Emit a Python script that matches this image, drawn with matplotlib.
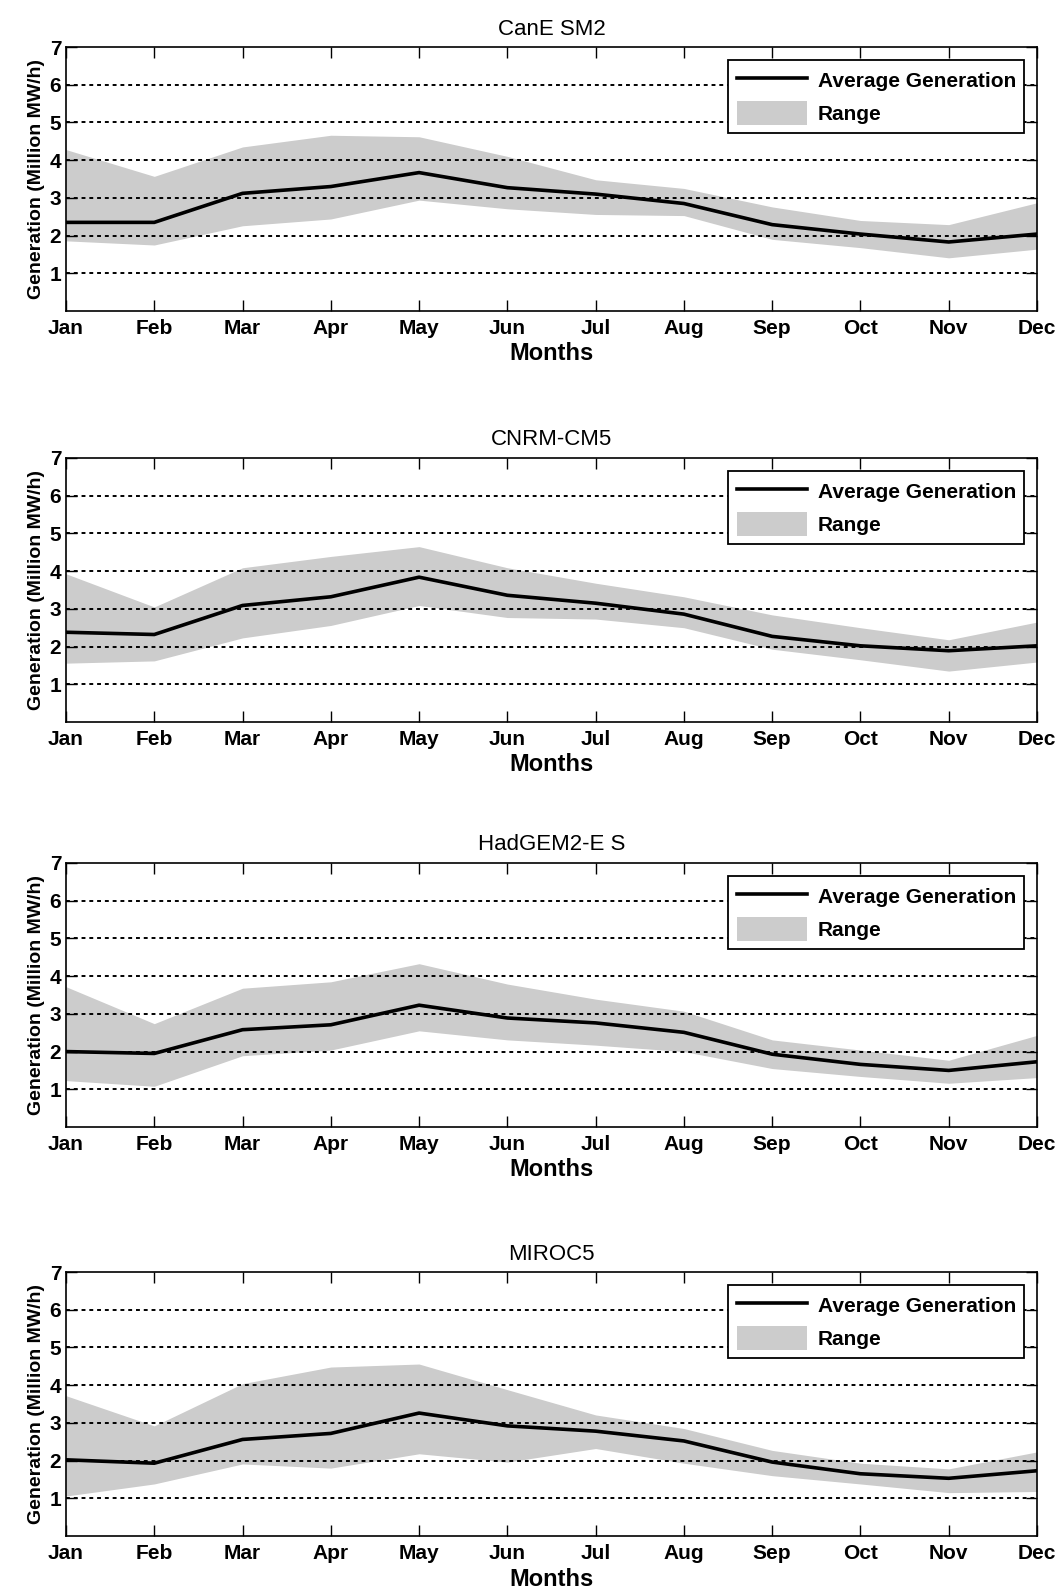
import numpy as np
import matplotlib.pyplot as plt
from matplotlib.patches import Patch
from matplotlib.lines import Line2D

plt.rcParams['font.family'] = ['Liberation Sans', 'DejaVu Sans']

months = ['Jan', 'Feb', 'Mar', 'Apr', 'May', 'Jun', 'Jul', 'Aug', 'Sep', 'Oct', 'Nov', 'Dec']
titles = ['CanE SM2', 'CNRM-CM5', 'HadGEM2-E S', 'MIROC5']

# average generation (million MW/h)
avg_canesm2 = [2.35, 2.35, 3.12, 3.30, 3.67, 3.27, 3.10, 2.85, 2.29, 2.04, 1.83, 2.04]
avg_cnrm = [2.38, 2.32, 3.09, 3.32, 3.84, 3.36, 3.15, 2.86, 2.27, 2.02, 1.89, 2.02]
avg_hadgem = [2.00, 1.95, 2.58, 2.71, 3.23, 2.89, 2.76, 2.51, 1.93, 1.66, 1.50, 1.73]
avg_miroc = [2.02, 1.93, 2.56, 2.72, 3.26, 2.92, 2.78, 2.52, 1.96, 1.65, 1.53, 1.73]

# upper edge of range
hi_canesm2 = [4.28, 3.57, 4.35, 4.66, 4.62, 4.10, 3.48, 3.25, 2.76, 2.40, 2.29, 2.87]
hi_cnrm = [3.93, 3.05, 4.09, 4.39, 4.65, 4.09, 3.68, 3.32, 2.84, 2.50, 2.18, 2.65]
hi_hadgem = [3.72, 2.74, 3.68, 3.85, 4.33, 3.79, 3.39, 3.07, 2.31, 2.04, 1.77, 2.43]
hi_miroc = [3.72, 2.92, 4.04, 4.48, 4.56, 3.88, 3.21, 2.85, 2.27, 1.93, 1.78, 2.23]

# lower edge of range
lo_canesm2 = [1.86, 1.75, 2.26, 2.44, 2.94, 2.71, 2.56, 2.53, 1.90, 1.68, 1.41, 1.64]
lo_cnrm = [1.56, 1.62, 2.23, 2.56, 3.09, 2.77, 2.73, 2.50, 1.93, 1.65, 1.35, 1.59]
lo_hadgem = [1.23, 1.08, 1.89, 2.04, 2.55, 2.31, 2.17, 2.00, 1.55, 1.34, 1.16, 1.31]
lo_miroc = [1.06, 1.38, 1.91, 1.80, 2.18, 1.96, 2.32, 1.93, 1.60, 1.38, 1.15, 1.18]

avgs = [avg_canesm2, avg_cnrm, avg_hadgem, avg_miroc]
his = [hi_canesm2, hi_cnrm, hi_hadgem, hi_miroc]
los = [lo_canesm2, lo_cnrm, lo_hadgem, lo_miroc]

W, H = 1059, 1593
fig = plt.figure(figsize=(W / 100, H / 100), dpi=100)

tops = [47, 458, 863, 1272]
ax_h = 264
left, right = 66, 1037

x = np.arange(len(months))
for i in range(4):
    ax = fig.add_axes([left / W, (H - tops[i] - ax_h) / H, (right - left) / W, ax_h / H])
    ax.fill_between(x, los[i], his[i], color='#cccccc', lw=0, zorder=1)
    ax.plot(x, avgs[i], color='black', lw=2.6, zorder=3)
    for yv in range(1, 7):
        ax.axhline(yv, color='black', lw=1.4, ls=(0, (2, 2)), zorder=2)
    ax.set_xlim(0, 11)
    ax.set_ylim(0, 7)
    ax.set_xticks(x)
    ax.set_xticklabels(months, fontsize=15, fontweight='bold')
    ax.set_yticks(range(1, 8))
    ax.set_yticklabels([str(v) for v in range(1, 8)], fontsize=15, fontweight='bold')
    ax.tick_params(direction='in', top=True, right=True, length=8, width=1)
    ax.tick_params(axis='x', pad=6)
    for s in ax.spines.values():
        s.set_linewidth(1.2)
    ax.set_title(titles[i], fontsize=16, pad=9)
    ax.set_xlabel('Months', fontsize=17, fontweight='bold', labelpad=3)
    ax.set_ylabel('Generation (Million MW/h)', fontsize=14, fontweight='bold', labelpad=3)
    handles = [Line2D([], [], color='black', lw=2.6), Patch(facecolor='#cccccc', edgecolor='none')]
    leg = ax.legend(handles, ['Average Generation', 'Range'], loc='upper right',
                    bbox_to_anchor=(0.987, 0.95), fancybox=False, framealpha=1,
                    edgecolor='black', prop={'size': 15, 'weight': 'bold'},
                    handlelength=3.4, handleheight=1.4, handletextpad=0.5,
                    borderaxespad=0, borderpad=0.4, labelspacing=0.4)
    leg.get_frame().set_linewidth(1.3)

fig.savefig('out.png', dpi=100)
